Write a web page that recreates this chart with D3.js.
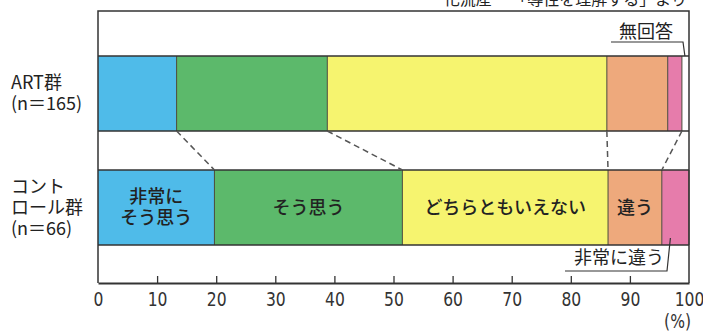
<!DOCTYPE html>
<html>
<head>
<meta charset="utf-8">
<script src="https://cdn.jsdelivr.net/npm/d3@7/dist/d3.min.js"></script>
<style>
  html, body { margin: 0; padding: 0; background: #fff; }
  svg { display: block; }
  .jp { font-family: "Noto Sans CJK JP", "Noto Sans", sans-serif; fill: #222; }
  .num { font-family: "DejaVu Sans", sans-serif; font-size: 19px; fill: #333; }
</style>
</head>
<body>
<svg id="chart" width="703" height="336"></svg>
<script>
// Answer categories (left to right in each bar)
const categories = ["非常にそう思う", "そう思う", "どちらともいえない", "違う", "非常に違う", "無回答"];
const categoryColors = ["#4fbbe9", "#5cb96b", "#f6f46f", "#eea97c", "#e67cab", "#ffffff"];

// Groups and their labels (multi-line)
const groups = ["ART", "control"];
const groupLabels = [["ART群", "(n＝165)"], ["コント", "ロール群", "(n＝66)"]];

// Percentages per group
const artValues = [13.3, 25.5, 47.3, 10.3, 2.4, 1.2];
const controlValues = [19.7, 31.8, 34.8, 9.1, 4.6, 0];

// Labels written inside the control bar segments
const controlSegmentLabels = [["非常に", "そう思う"], ["そう思う"], ["どちらともいえない"], ["違う"], [], []];

// Axis ticks
const tickValues = [0, 10, 20, 30, 40, 50, 60, 70, 80, 90, 100];

// Dashed guide lines: [boundary index in ART bar, boundary index in control bar]
const connectorPairs = [[1, 1], [2, 2], [3, 3], [5, 4]];

const svg = d3.select("#chart");
const frame = { left: 98, right: 689, top: 11, bottom: 283 };
const narrow = "scale(0.82,1)";

const x = d3.scaleLinear().domain([0, 100]).range([frame.left, frame.right]);
const y = d3.scaleBand().domain(groups).range([56, 245]).paddingInner(0.342).paddingOuter(0);

const valuesByGroup = { ART: artValues, control: controlValues };
const cumulative = g => {
  const out = [0];
  valuesByGroup[g].forEach(v => out.push(out[out.length - 1] + v));
  out[out.length - 1] = 100;
  return out;
};

// Source note at top (runs past the top edge)
svg.append("text").attr("class", "jp")
  .attr("x", 687).attr("y", 5).attr("text-anchor", "end")
  .attr("font-size", 16)
  .text("化流産 ―「導性を理解する」より");

// Stacked segments
groups.forEach(g => {
  const cum = cumulative(g);
  const segs = categories.map((c, i) => ({ c, i, x0: cum[i], x1: cum[i + 1] }));
  const gEl = svg.append("g");
  gEl.selectAll("rect").data(segs).join("rect")
    .attr("x", d => x(d.x0))
    .attr("y", y(g))
    .attr("width", d => Math.max(0, x(d.x1) - x(d.x0)))
    .attr("height", y.bandwidth())
    .attr("fill", d => categoryColors[d.i]);
  // dividers between segments
  gEl.selectAll("line").data(cum.slice(1, -1)).join("line")
    .attr("x1", d => x(d)).attr("x2", d => x(d))
    .attr("y1", y(g)).attr("y2", y(g) + y.bandwidth())
    .attr("stroke", "#4a4a3a").attr("stroke-width", 1);
  // full-width lines at bar top and bottom
  [y(g), y(g) + y.bandwidth()].forEach(yy => {
    svg.append("line")
      .attr("x1", frame.left).attr("x2", frame.right)
      .attr("y1", yy).attr("y2", yy)
      .attr("stroke", "#333").attr("stroke-width", 1.3);
  });
});

// Dashed guides between the two bars
const cumArt = cumulative("ART"), cumCtl = cumulative("control");
svg.append("g").selectAll("line").data(connectorPairs).join("line")
  .attr("x1", d => x(cumArt[d[0]]))
  .attr("y1", y("ART") + y.bandwidth())
  .attr("x2", d => x(cumCtl[d[1]]))
  .attr("y2", y("control"))
  .attr("stroke", "#555").attr("stroke-width", 1.5)
  .attr("stroke-dasharray", "6,4");

// Segment labels in the control bar
controlSegmentLabels.forEach((lines, i) => {
  if (!lines.length) return;
  const cx = (x(cumCtl[i]) + x(cumCtl[i + 1])) / 2;
  const cy = y("control") + y.bandwidth() / 2;
  const lh = 21;
  lines.forEach((t, k) => {
    svg.append("text").attr("class", "jp")
      .attr("x", cx)
      .attr("y", cy + (k - (lines.length - 1) / 2) * lh)
      .attr("dy", "0.36em")
      .attr("text-anchor", "middle")
      .attr("font-size", 18)
      .attr("font-weight", 500)
      .attr("fill", "#33332a")
      .text(t);
  });
});

// Group labels on the left
groups.forEach((g, gi) => {
  const lines = groupLabels[gi];
  const cy = y(g) + y.bandwidth() / 2;
  const lh = 21;
  lines.forEach((t, k) => {
    svg.append("text").attr("class", "jp")
      .attr("x", 11)
      .attr("y", cy + (k - (lines.length - 1) / 2) * lh)
      .attr("dy", "0.36em")
      .attr("font-size", 18)
      .attr("fill", "#333")
      .text(t);
  });
});

// Frame
svg.append("path")
  .attr("d", `M${frame.left},${frame.bottom}V${frame.top}H${frame.right}V${frame.bottom}`)
  .attr("fill", "none").attr("stroke", "#333").attr("stroke-width", 1.5);

// Axis with inward ticks
const axis = d3.axisBottom(x).tickValues(tickValues).tickFormat(d3.format("d"))
  .tickSizeInner(-7).tickSizeOuter(0).tickPadding(10);
const axG = svg.append("g").attr("transform", `translate(0,${frame.bottom})`).call(axis);
axG.attr("font-family", null).attr("font-size", null);
axG.selectAll(".tick text").attr("class", "num")
  .attr("transform", narrow);
axG.select(".domain").attr("stroke", "#333").attr("stroke-width", 2);
axG.selectAll(".tick line").attr("stroke", "#333").attr("stroke-width", 1.3);
axG.selectAll(".tick").filter(d => d === 0 || d === 100).select("line").remove();

svg.append("g").attr("transform", "translate(691,328)")
  .append("text").attr("class", "num")
  .attr("text-anchor", "end")
  .attr("transform", narrow)
  .text("(%)");

// Callout: 無回答
const naX = x(cumArt[5]) + 3;
svg.append("path")
  .attr("d", `M611,42H683L${naX},${y("ART")}`)
  .attr("fill", "none").attr("stroke", "#333").attr("stroke-width", 1.2);
svg.append("text").attr("class", "jp")
  .attr("x", 646).attr("y", 38).attr("text-anchor", "middle")
  .attr("font-size", 18).attr("fill", "#333")
  .text(categories[5]);

// Callout: 非常に違う
const svX = (x(cumCtl[4]) + x(cumCtl[5])) / 2 - 5;
svg.append("path")
  .attr("d", `M565,271H667L${svX},238`)
  .attr("fill", "none").attr("stroke", "#333").attr("stroke-width", 1.2);
svg.append("text").attr("class", "jp")
  .attr("x", 619).attr("y", 264).attr("text-anchor", "middle")
  .attr("font-size", 18).attr("fill", "#333")
  .text(categories[4]);
</script>
</body>
</html>
